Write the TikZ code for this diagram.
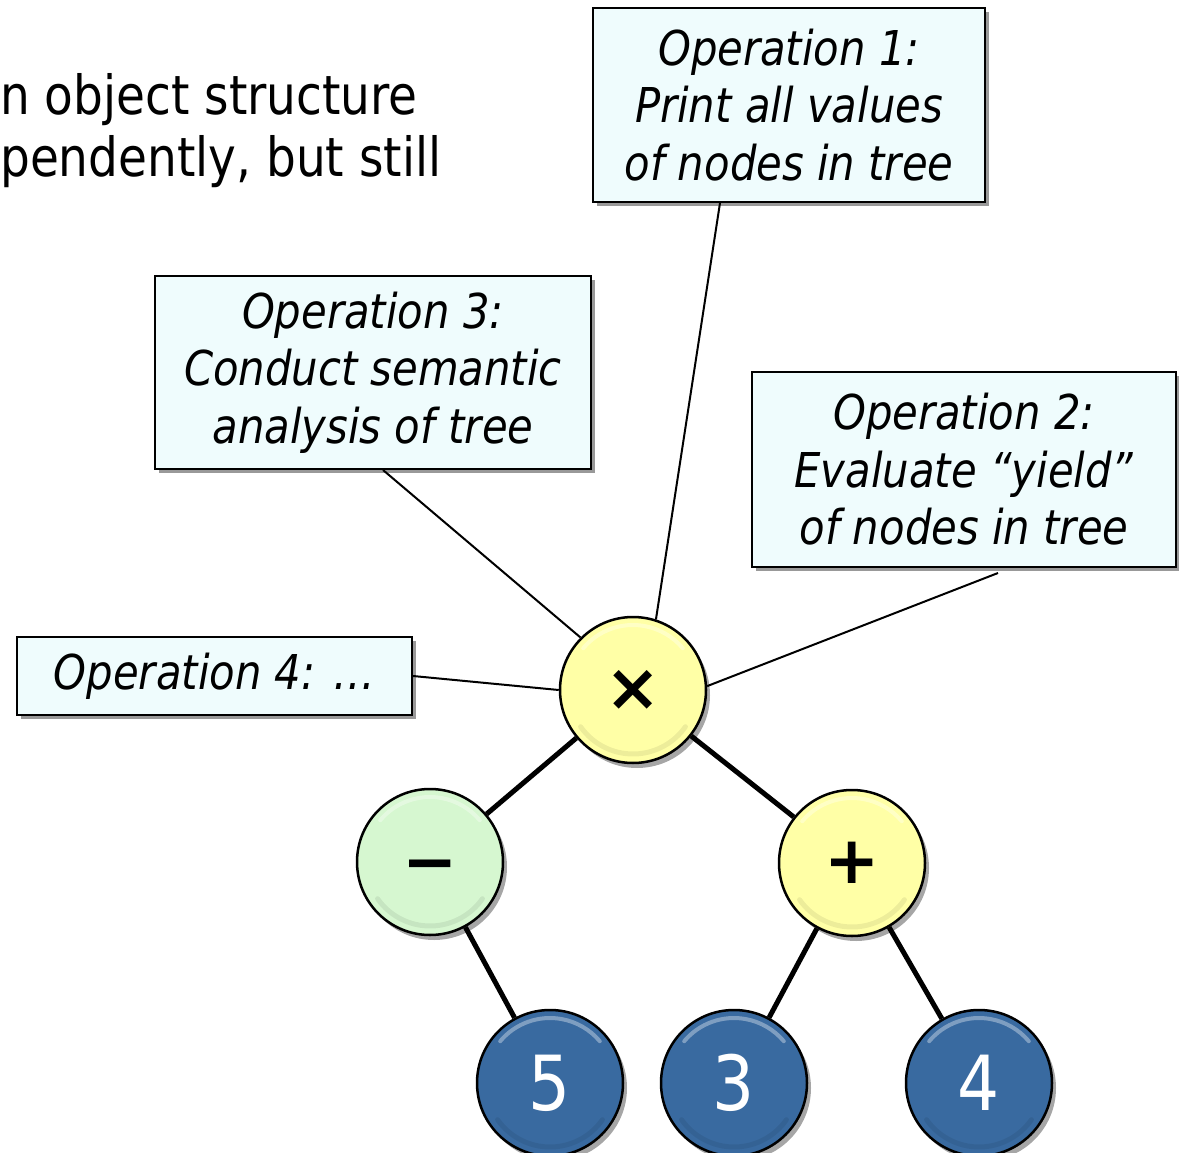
\documentclass[tikz,border=0pt]{standalone}
\usepackage{fontspec}
\setmainfont{DejaVu Sans}[FakeStretch=0.87]
\newfontfamily\symfont{DejaVu Sans}
\usetikzlibrary{shadows}
\pgfdeclarelayer{background}
\pgfsetlayers{background,main}
\definecolor{boxfill}{RGB}{239,252,253}
\definecolor{opyellow}{RGB}{255,255,166}
\definecolor{opgreen}{RGB}{214,247,208}
\definecolor{leafblue}{RGB}{57,106,160}
\begin{document}
\begin{tikzpicture}[x=1pt,y=-1pt,
  callout/.style={draw=black, line width=2pt, fill=boxfill, align=center,
    inner sep=0pt, font=\fontsize{48}{57.5}\selectfont\itshape,
    drop shadow={shadow xshift=4pt, shadow yshift=-4pt, opacity=.4, fill=black}},
  gloss/.style={path picture={
    \draw[white, opacity=.35, line width=4pt, line cap=round]
      (path picture bounding box.center) ++(140:65pt) arc[start angle=140, end angle=40, radius=65pt];
    \draw[black, opacity=.07, line width=5pt, line cap=round]
      (path picture bounding box.center) ++(-145:64pt) arc[start angle=-145, end angle=-35, radius=64pt];}},
  treenode/.style={circle, draw=black, line width=2.5pt, minimum size=146pt, inner sep=0pt, gloss,
    drop shadow={shadow xshift=4pt, shadow yshift=-5pt, opacity=.35, fill=black}},
  opnode/.style={treenode, font=\symfont\bfseries\fontsize{66}{66}\selectfont},
  leaf/.style={treenode, fill=leafblue, text=white, font=\fontsize{76}{76}\selectfont},
  treeedge/.style={line width=5pt},
  callline/.style={line width=2pt},
  headline/.style={anchor=base west, inner sep=0pt, font=\fontsize{54}{60}\selectfont}]

\begin{pgfonlayer}{background}
  \fill[white] (0,0) rectangle (1179,1153);
\end{pgfonlayer}
\useasboundingbox (0,0) rectangle (1179,1153);

% heading text running in from the left
\node[headline] (head1) at (0,115) {n object structure};
\node[headline] (head2) at (0,177) {pendently, but still};

% operation callouts
\node[callout, minimum width=392pt, minimum height=194pt] (op1) at (789,105)
  {Operation 1:\\Print all values\\of nodes in tree};
\node[callout, minimum width=436pt, minimum height=193pt] (op3) at (373,372.5)
  {Operation 3:\\Conduct semantic\\analysis of tree};
\node[callout, minimum width=424pt, minimum height=195pt] (op2) at (964,469.5)
  {Operation 2:\\Evaluate “yield”\\of nodes in tree};
\node[callout, minimum width=395pt, minimum height=78pt] (op4) at (214.5,676)
  {Operation 4: …};

% expression tree
\node[opnode, fill=opyellow] (mul) at (633,690) {×};
\node[opnode, fill=opgreen] (minus) at (430,862) {\vphantom{+}\raisebox{-4pt}{−}};
\node[opnode, fill=opyellow] (plus) at (852,863) {+};
\node[leaf] (five) at (550,1083) {5};
\node[leaf] (three) at (734,1083) {3};
\node[leaf] (four) at (979,1083) {4};

% free ends of the callout leaders
\coordinate (t1) at (720,203);
\coordinate (t3) at (383,470);
\coordinate (t2) at (998,573);

\begin{pgfonlayer}{background}
  \draw[treeedge] (mul) -- (minus);
  \draw[treeedge] (mul) -- (plus);
  \draw[treeedge] (minus) -- (five);
  \draw[treeedge] (plus) -- (three);
  \draw[treeedge] (plus) -- (four);
  \draw[callline] (t1) -- (mul.72);
  \draw[callline] (t3) -- (mul.135);
  \draw[callline] (t2) -- (mul.3);
  \draw[callline] (op4.east) -- (mul.180);
\end{pgfonlayer}
\end{tikzpicture}
\end{document}
